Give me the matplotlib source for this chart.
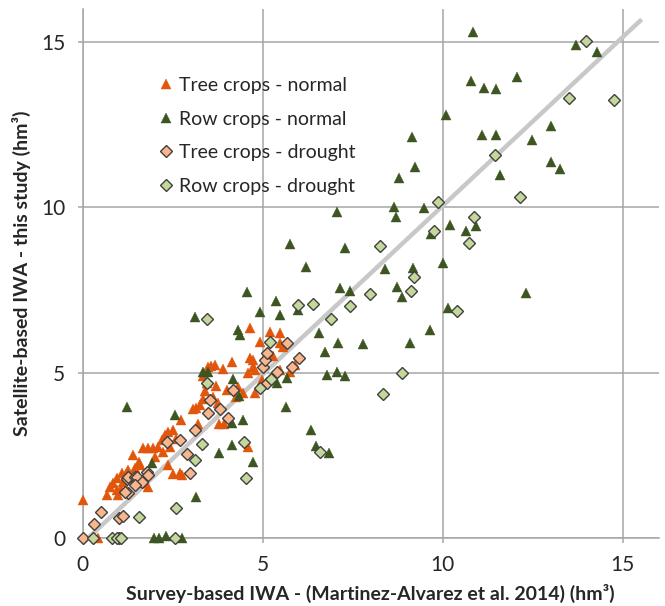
import matplotlib
matplotlib.use("Agg")
import numpy as np
from matplotlib import pyplot as plt

# Tree crops - normal year
tree_normal_x = [0.02, 0.67, 0.99, 0.85, 1.13, 0.94, 1.27, 1.45, 1.59, 1.08, 1.31, 1.73, 1.82, 1.41,
                 1.68, 1.82, 1.96, 2.10, 2.19, 2.29, 2.38, 2.52, 2.43, 2.24, 2.70, 2.75, 2.38, 2.72,
                 3.07, 3.15, 3.21, 3.33, 3.39, 3.26, 3.63, 3.77, 3.57, 3.68, 3.91, 4.14, 3.49, 3.80,
                 3.92, 4.00, 4.32, 4.27, 4.60, 4.58, 4.65, 5.20, 5.48, 4.93, 4.74, 4.74, 4.79, 5.48,
                 5.57, 4.97, 5.48, 5.76, 5.90, 4.80, 0.43, 1.05, 1.20, 0.95, 1.55, 2.00, 2.60, 3.45,
                 3.35, 3.70, 4.45, 4.65, 5.30, 2.50, 0.75]
tree_normal_y = [1.15, 1.30, 1.30, 1.66, 1.71, 1.81, 2.06, 2.11, 2.21, 1.96, 1.81, 1.66, 1.55, 2.51,
                 2.72, 2.72, 2.72, 2.76, 2.97, 3.12, 3.22, 3.27, 2.76, 2.61, 1.96, 1.90, 2.22, 3.57,
                 3.92, 3.95, 3.45, 4.21, 4.44, 4.02, 4.28, 4.08, 5.20, 5.23, 5.13, 5.33, 5.18, 3.45,
                 3.45, 4.48, 4.58, 4.27, 4.98, 2.76, 6.34, 6.24, 6.19, 5.94, 5.39, 5.18, 5.08, 5.89,
                 5.79, 4.78, 5.08, 5.03, 5.23, 4.39, 0.00, 1.50, 1.95, 1.45, 2.30, 2.45, 3.00, 4.70,
                 4.90, 4.60, 4.40, 5.45, 5.50, 1.95, 1.55]

# Row crops - normal year
row_normal_x = [10.83, 13.70, 14.29, 12.06, 10.78, 11.15, 11.47, 10.09, 13.00, 9.16, 11.08, 11.48,
                12.47, 9.24, 13.00, 13.26, 11.59, 8.79, 8.65, 9.49, 8.69, 7.07, 10.20, 10.64, 10.92,
                9.67, 5.76, 7.29, 10.00, 6.20, 8.40, 9.18, 7.15, 7.43, 8.74, 8.86, 12.31, 4.57, 5.37,
                4.93, 5.48, 5.99, 3.12, 10.16, 4.32, 4.36, 6.57, 9.65, 6.73, 7.08, 7.80, 9.09, 6.78,
                7.06, 7.29, 5.67, 5.39, 3.35, 3.49, 4.18, 4.35, 5.65, 1.22, 2.56, 4.46, 4.14, 6.33,
                6.48, 6.85, 4.14, 3.79, 4.72, 1.92, 3.15, 1.97, 2.13, 2.30, 2.76]
row_normal_y = [15.31, 14.91, 14.71, 13.95, 13.82, 13.60, 13.57, 12.79, 12.46, 12.14, 12.19, 12.19,
                12.04, 11.23, 11.38, 11.15, 10.98, 10.88, 10.02, 9.99, 9.70, 9.87, 9.47, 9.30, 9.44,
                9.20, 8.91, 8.76, 8.31, 8.21, 8.13, 8.16, 7.55, 7.48, 7.60, 7.30, 7.40, 7.45, 7.18,
                6.85, 6.75, 6.90, 6.69, 6.95, 6.29, 6.15, 6.21, 6.29, 5.64, 5.89, 5.87, 5.91, 4.93,
                5.03, 4.90, 4.83, 4.68, 5.03, 5.03, 4.80, 4.30, 3.97, 3.97, 3.72, 3.57, 3.47, 3.27,
                2.78, 2.56, 2.82, 2.56, 2.31, 2.26, 1.25, 0.00, 0.00, 0.05, 0.00]

# Tree crops - drought year
tree_drought_x = [0.00, 0.30, 0.50, 1.00, 1.12, 1.00, 1.23, 1.27, 1.46, 1.50, 1.64, 1.45, 1.27, 1.79,
                  2.33, 2.70, 2.89, 2.98, 3.12, 3.49, 3.54, 3.81, 4.04, 4.18, 5.02, 5.06, 5.11, 5.39,
                  5.67, 5.81, 6.01, 5.11, 1.18, 1.82]
tree_drought_y = [0.00, 0.44, 0.78, 0.62, 0.68, 0.00, 1.79, 1.86, 1.85, 1.86, 1.71, 1.61, 1.35, 2.00,
                  2.92, 2.97, 2.55, 1.96, 3.27, 3.77, 4.18, 3.92, 3.62, 4.48, 5.18, 5.39, 5.59, 5.03,
                  5.89, 5.18, 5.44, 4.68, 1.40, 1.91]

# Row crops - drought year
row_drought_x = [13.98, 14.75, 13.51, 11.45, 12.15, 9.87, 9.77, 10.87, 10.72, 8.26, 9.20, 9.11, 7.97,
                 7.43, 5.99, 6.41, 10.39, 6.91, 3.45, 5.20, 8.88, 8.33, 5.22, 4.92, 3.44, 4.49, 3.30,
                 3.12, 4.55, 2.60, 1.55, 2.56, 0.29, 0.80, 0.94, 1.06, 6.59]
row_drought_y = [15.05, 13.24, 13.30, 11.58, 10.33, 10.18, 9.30, 9.72, 8.92, 8.82, 7.91, 7.48, 7.39,
                 7.02, 7.05, 7.07, 6.86, 6.64, 6.64, 5.93, 5.00, 4.37, 4.80, 4.53, 4.70, 2.92, 2.84,
                 2.36, 1.82, 0.90, 0.65, 0.00, 0.00, 0.00, 0.00, 0.00, 2.59]

# trend line
trend_x = [0.0, 15.53]
trend_slope = 1.02
trend_icpt = -0.15

labels = ["Tree crops - normal", "Row crops - normal", "Tree crops - drought", "Row crops - drought"]
ticks = [0, 5, 10, 15]

plt.rcParams['font.family'] = ['Lato', 'DejaVu Sans']
grid_c = "#a6a6a6"

fig = plt.figure(figsize=(6.65, 6.06), dpi=100)
ax = fig.add_axes([0.1244, 0.112, 0.866, 0.873])

tx = np.array(trend_x)
ax.plot(tx, trend_slope * tx + trend_icpt, color="#c8c8c8", lw=3.2, zorder=2, clip_on=False,
        solid_capstyle="butt")

ax.plot(tree_normal_x, tree_normal_y, ls="none", marker="^", ms=7.6, color="#e2560c",
        mec="#e2560c", mew=0.3, label=labels[0], zorder=3, clip_on=False)
ax.plot(row_normal_x, row_normal_y, ls="none", marker="^", ms=7.6, color="#3d5621",
        mec="#3d5621", mew=0.3, label=labels[1], zorder=3, clip_on=False)
ax.plot(tree_drought_x, tree_drought_y, ls="none", marker="D", ms=6.0, color="#f9b68c",
        mec="#404040", mew=1.0, label=labels[2], zorder=4, clip_on=False)
ax.plot(row_drought_x, row_drought_y, ls="none", marker="D", ms=6.0, color="#c4d89c",
        mec="#404040", mew=1.0, label=labels[3], zorder=4, clip_on=False)

ax.set_xlim(0, 16)
ax.set_ylim(0, 16)
ax.set_xticks(ticks)
ax.set_yticks(ticks)
ax.grid(True, color=grid_c, lw=1.1)
ax.set_axisbelow(True)
for s in ["top", "right"]:
    ax.spines[s].set_visible(False)
for s in ["left", "bottom"]:
    ax.spines[s].set_color(grid_c)
    ax.spines[s].set_linewidth(1.1)
ax.tick_params(colors=grid_c, length=3.5, width=1.1, labelcolor="#262626", labelsize=15, pad=9)

ax.set_xlabel("Survey-based IWA - (Martinez-Alvarez et al. 2014) (hm³)", fontsize=14,
              fontweight="bold", color="#262626", labelpad=6)
ax.set_ylabel("Satellite-based IWA - this study (hm³)", fontsize=14, fontweight="bold",
              color="#262626", labelpad=7)

leg = ax.legend(loc="upper left", bbox_to_anchor=(0.133, 0.872), frameon=False, fontsize=14,
                handlelength=0.7, handletextpad=0.3, labelspacing=0.86, borderpad=0,
                borderaxespad=0, numpoints=1)
for t in leg.get_texts():
    t.set_color("#262626")

fig.savefig("out.png", dpi=100)
